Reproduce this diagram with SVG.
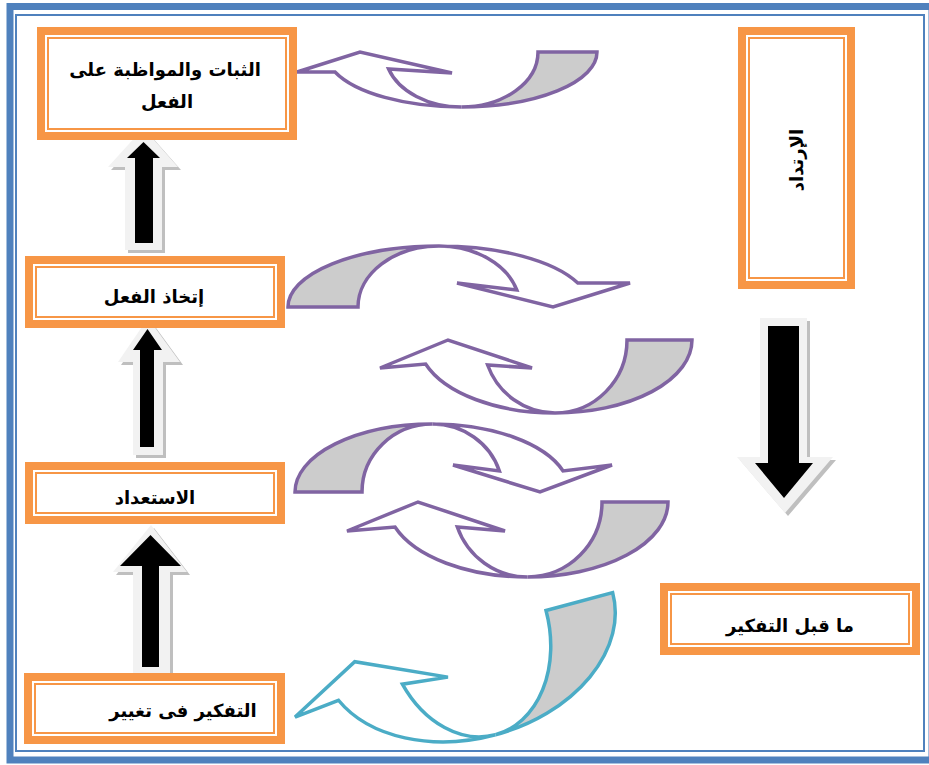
<svg xmlns="http://www.w3.org/2000/svg" width="929" height="765" viewBox="0 0 929 765">
  <style>
    .band { fill: #ffffff; stroke: #f79646; stroke-width: 8; }
    .line { fill: none; stroke: #f79646; stroke-width: 2; }
    .lbl { font-family: "DejaVu Sans", "Liberation Sans", sans-serif; font-weight: bold; font-size: 18px; fill: #000000; text-anchor: middle; }
    .back { fill: #cccccc; stroke-linejoin: miter; }
    .front { fill: #ffffff; stroke-linejoin: miter; }
    .purple path { stroke: #8064a2; stroke-width: 3.5; }
    .teal path { stroke: #4bacc6; stroke-width: 3.5; }
    .shadow { fill: #bfbfbf; }
    .hollow { fill: #f2f2f2; }
    .solid { fill: #000000; }
  </style>

  <!-- page frame -->
  <rect x="10" y="6.5" width="922" height="753.5" fill="#ffffff" stroke="#4f81bd" stroke-width="7"/>
  <rect x="16" y="15" width="908" height="736" fill="none" stroke="#4f81bd" stroke-width="2"/>

  <g id="connectors">
    <!-- up arrows on the left column -->
    <g id="up-arrow-1">
      <polygon class="shadow" points="146.5,131 181,170 165,170 165,253 128,253 128,170 111,170"/>
      <polygon class="hollow" points="143.5,128 178,167 162,167 162,250 125,250 125,167 108,167"/>
      <polygon class="solid" points="143.5,142 160,158 153,158 153,243 135,243 135,158 127,158"/>
    </g>
    <g id="up-arrow-2">
      <polygon class="shadow" points="151,321 183,365 166,365 166,458 136,458 136,365 121,365"/>
      <polygon class="hollow" points="148,318 180,362 163,362 163,455 133,455 133,362 118,362"/>
      <polygon class="solid" points="147.5,329 162,350 154,350 154,447 140,447 140,350 133,350"/>
    </g>
    <g id="up-arrow-3">
      <polygon class="shadow" points="154,528 190,575 173,575 173,678 136,678 136,575 116,575"/>
      <polygon class="hollow" points="151,525 187,572 170,572 170,675 133,675 133,572 113,572"/>
      <polygon class="solid" points="150.5,535 181,566 159,566 159,667 142,667 142,566 120,566"/>
    </g>

    <!-- down arrow on the right -->
    <g id="down-arrow">
      <polygon class="shadow" points="763,321 810,321 810,460 836,460 788,516 740,460 763,460"/>
      <polygon class="hollow" points="760,318 807,318 807,457 833,457 785,513 737,457 760,457"/>
      <polygon class="solid" points="768,326 799,326 799,463 813,463 784,498 755,463 768,463"/>
    </g>

    <!-- curved ribbon arrows -->
    <g id="curve-1" class="purple" transform="translate(297,52)">
      <path class="back" d="M241,0 L300,0 A135.6,55 0 0 1 164.4,55 A76.6,55 0 0 0 241,0 Z"/>
      <path class="front" d="M0,20 L63,0 L155,21 L91.6,17 A76.6,55 0 0 0 164.4,55 A135.6,55 0 0 1 38,20 Z"/>
    </g>
    <g id="curve-2" class="purple" transform="translate(630,307) rotate(180)">
      <path class="back" d="M272,0 L342,0 A151,61 0 0 1 191,61 A81,61 0 0 0 272,0 Z"/>
      <path class="front" d="M0,24 L77,0 L173,24 L113.2,17 A81,61 0 0 0 191,61 A151,61 0 0 1 52.2,24 Z"/>
    </g>
    <g id="curve-3" class="purple" transform="translate(380,340)">
      <path class="back" d="M247,0 L312,0 A137,73 0 0 1 175,73 A72,73 0 0 0 247,0 Z"/>
      <path class="front" d="M0,28 L68,0 L152,28 L107.6,25 A72,73 0 0 0 175,73 A137,73 0 0 1 45.6,24 Z"/>
    </g>
    <g id="curve-4" class="purple" transform="translate(612,492) rotate(180)">
      <path class="back" d="M250,0 L317,0 A137.4,68 0 0 1 179.6,68 A70.4,68 0 0 0 250,0 Z"/>
      <path class="front" d="M0,27 L72,0 L159,27 L112.6,21 A70.4,68 0 0 0 179.6,68 A137.4,68 0 0 1 48.9,21 Z"/>
    </g>
    <g id="curve-5" class="purple" transform="translate(347,502)">
      <path class="back" d="M255,0 L321,0 A140.5,75 0 0 1 180.5,75 A74.5,75 0 0 0 255,0 Z"/>
      <path class="front" d="M0,29 L71,0 L158,29 L110.3,25 A74.5,75 0 0 0 180.5,75 A140.5,75 0 0 1 48,25 Z"/>
    </g>
    <g id="curve-6" class="teal" transform="rotate(-15) translate(99.4,731)">
      <path class="back" d="M270,0 L339,0 A150,107 0 0 1 189,107 A81,107 0 0 0 270,0 Z"/>
      <path class="front" d="M0,38 L72,0 L158,39 L112.2,34 A81,107 0 0 0 189,107 A150,107 0 0 1 46.3,33 Z"/>
    </g>
  </g>

  <!-- steps -->
  <g id="node-persistence">
    <rect class="band" x="41" y="31" width="252" height="105"/>
    <rect class="line" x="48" y="38" width="238" height="91"/>
    <text class="lbl" x="165" y="76">الثبات والمواظبة على</text>
    <text class="lbl" x="167" y="108">الفعل</text>
  </g>
  <g id="node-action">
    <rect class="band" x="29" y="260" width="252" height="64"/>
    <rect class="line" x="36" y="267" width="238" height="50"/>
    <text class="lbl" x="154" y="303">إتخاذ الفعل</text>
  </g>
  <g id="node-preparation">
    <rect class="band" x="29" y="466" width="252" height="54"/>
    <rect class="line" x="36" y="473" width="238" height="40"/>
    <text class="lbl" x="155" y="504">الاستعداد</text>
  </g>
  <g id="node-contemplation">
    <rect class="band" x="28" y="677" width="253" height="63"/>
    <rect class="line" x="35" y="684" width="239" height="49"/>
    <text class="lbl" x="183" y="717">التفكير فى تغيير</text>
  </g>
  <g id="node-precontemplation">
    <rect class="band" x="664" y="587" width="252" height="64"/>
    <rect class="line" x="671" y="594" width="238" height="50"/>
    <text class="lbl" x="790" y="632">ما قبل التفكير</text>
  </g>
  <g id="node-relapse">
    <rect class="band" x="742" y="31" width="109" height="254"/>
    <rect class="line" x="749" y="38" width="95" height="240"/>
    <text class="lbl" transform="translate(803,160) rotate(-90)" x="0" y="0">الإرتداد</text>
  </g>
</svg>
